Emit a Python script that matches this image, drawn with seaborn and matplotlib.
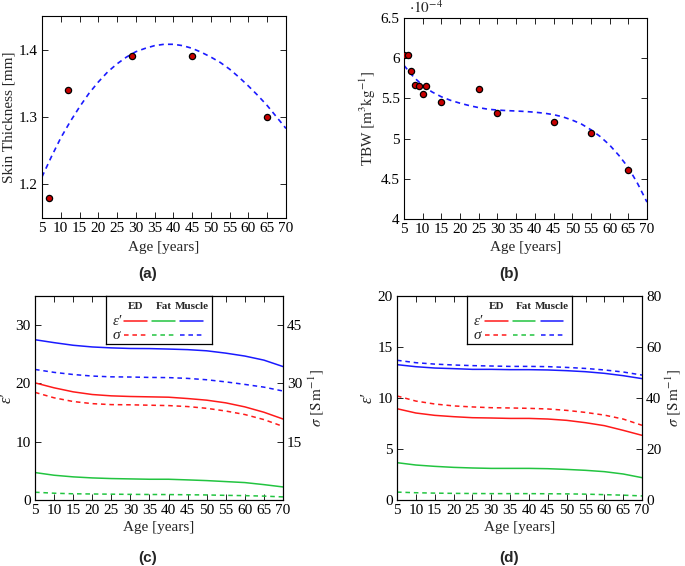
import numpy as np
import pandas as pd
import seaborn as sns
import matplotlib
matplotlib.use("Agg")
import matplotlib.pyplot as plt
from matplotlib.ticker import FuncFormatter

# ---- data ----
ages = [5, 10, 15, 20, 25, 30, 35, 40, 45, 50, 55, 60, 65, 70]
fit_ages = [5, 7.5, 10, 12.5, 15, 17.5, 20, 22.5, 25, 27.5, 30, 32.5, 35, 37.5, 40,
            42.5, 45, 47.5, 50, 52.5, 55, 57.5, 60, 62.5, 65, 67.5, 70]

skin_age = [7, 12, 29, 45, 65]
skin_mm = [1.18, 1.34, 1.39, 1.39, 1.30]
skin_fit = [1.211, 1.241, 1.269, 1.293, 1.315, 1.335, 1.352, 1.367, 1.379, 1.389,
            1.397, 1.402, 1.406, 1.408, 1.408, 1.406, 1.402, 1.396, 1.389, 1.381,
            1.371, 1.359, 1.346, 1.332, 1.317, 1.300, 1.283]

tbw_age = [5, 6, 7, 8, 9, 10, 11, 15, 25, 30, 45, 55, 65]
tbw = [6.04, 6.04, 5.84, 5.67, 5.66, 5.56, 5.65, 5.45, 5.62, 5.32, 5.21, 5.07, 4.61]
tbw_fit = [5.91, 5.77, 5.66, 5.58, 5.52, 5.475, 5.44, 5.41, 5.385, 5.365, 5.355,
           5.348, 5.343, 5.337, 5.328, 5.316, 5.298, 5.27, 5.23, 5.18, 5.11,
           5.025, 4.92, 4.79, 4.64, 4.44, 4.21]

# panel (c)
c_eps_ed = [20.1, 19.25, 18.56, 18.1, 17.87, 17.76, 17.7, 17.64, 17.41, 17.13, 16.67, 15.98, 15.06, 13.9]
c_eps_fat = [4.71, 4.25, 3.97, 3.79, 3.68, 3.62, 3.56, 3.56, 3.45, 3.33, 3.16, 2.99, 2.64, 2.24]
c_eps_mus = [27.5, 27.0, 26.55, 26.26, 26.1, 26.0, 25.98, 25.9, 25.8, 25.6, 25.2, 24.7, 24.0, 22.9]
c_sig_ed = [27.7, 26.3, 25.35, 24.8, 24.55, 24.5, 24.4, 24.3, 24.05, 23.6, 22.9, 22.0, 20.7, 18.95]
c_sig_fat = [2.0, 1.75, 1.6, 1.55, 1.5, 1.45, 1.42, 1.4, 1.35, 1.3, 1.2, 1.12, 1.0, 0.8]
c_sig_mus = [33.6, 32.85, 32.3, 31.9, 31.7, 31.65, 31.55, 31.5, 31.3, 30.95, 30.4, 29.75, 29.05, 28.05]

# panel (d)
d_eps_ed = [8.95, 8.53, 8.3, 8.17, 8.07, 8.04, 8.0, 8.0, 7.94, 7.81, 7.58, 7.29, 6.83, 6.34]
d_eps_fat = [3.66, 3.43, 3.3, 3.2, 3.14, 3.1, 3.1, 3.1, 3.07, 3.0, 2.91, 2.78, 2.55, 2.19]
d_eps_mus = [13.27, 13.07, 12.94, 12.88, 12.81, 12.81, 12.78, 12.78, 12.75, 12.68, 12.58, 12.42, 12.19, 11.9]
d_sig_ed = [40.8, 38.8, 37.65, 36.9, 36.5, 36.2, 36.1, 35.95, 35.7, 35.15, 34.35, 33.3, 31.75, 29.3]
d_sig_fat = [3.1, 2.85, 2.7, 2.6, 2.55, 2.5, 2.5, 2.5, 2.45, 2.4, 2.3, 2.1, 1.9, 1.6]
d_sig_mus = [54.8, 53.85, 53.3, 52.95, 52.7, 52.55, 52.4, 52.4, 52.3, 52.0, 51.6, 51.0, 50.2, 49.0]

tissues = ["ED", "Fat", "Muscle"]
colors = {"ED": "#ff1a1a", "Fat": "#22c440", "Muscle": "#1a1aff"}

sns.set_theme(style="ticks")
plt.rcParams["font.family"] = ["Liberation Serif", "DejaVu Serif"]
plt.rcParams["mathtext.fontset"] = "stix"

FS = 11
DASH = (0, (3, 2.5))
W, H = 685, 566

fig = plt.figure(figsize=(6.85, 5.66), dpi=100)
ax_a = fig.add_axes([0.0613, 0.6148, 0.3562, 0.3569])
ax_b = fig.add_axes([0.5898, 0.6131, 0.3547, 0.3551])
ax_c = fig.add_axes([0.0511, 0.1166, 0.3620, 0.3604])
ax_d = fig.add_axes([0.5796, 0.1166, 0.3577, 0.3604])


def style(ax, right=True):
    ax.tick_params(direction="in", top=True, right=right, length=4, width=0.6,
                   labelsize=FS, colors="black", pad=3)
    ax.set_xlim(5, 70)
    ax.set_xticks(range(5, 71, 5))
    for s in ax.spines.values():
        s.set_color("black")
        s.set_linewidth(0.8)


def place_labels(ax, xl_y, yl_x):
    ax.xaxis.set_label_coords(0.5, xl_y)
    ax.xaxis.label.set_va("center")
    ax.yaxis.set_label_coords(yl_x, 0.5)
    ax.yaxis.label.set_va("center")


# (a) skin thickness
sns.lineplot(x=fit_ages, y=skin_fit, ax=ax_a, color="#1a1aff", lw=1.2, linestyle=DASH)
sns.scatterplot(x=skin_age, y=skin_mm, ax=ax_a, color="#c80000", edgecolor="black",
                s=20, linewidth=0.9, zorder=5)
style(ax_a)
ax_a.set_ylim(1.15, 1.45)
ax_a.set_yticks([1.2, 1.3, 1.4])
ax_a.set_xlabel("Age [years]", fontsize=FS)
ax_a.set_ylabel("Skin Thickness [mm]", fontsize=FS)
place_labels(ax_a, -0.145, -0.135)

# (b) TBW
sns.lineplot(x=fit_ages, y=tbw_fit, ax=ax_b, color="#1a1aff", lw=1.2, linestyle=DASH)
sns.scatterplot(x=tbw_age, y=tbw, ax=ax_b, color="#c80000", edgecolor="black",
                s=20, linewidth=0.9, zorder=5)
style(ax_b)
ax_b.set_ylim(4, 6.5)
ax_b.set_yticks([4, 4.5, 5, 5.5, 6, 6.5])
ax_b.yaxis.set_major_formatter(FuncFormatter(lambda v, p: "%g" % v))
ax_b.set_xlabel("Age [years]", fontsize=FS)
ax_b.set_ylabel(r"TBW $[\mathrm{m^3kg^{-1}}]$", fontsize=FS)
place_labels(ax_b, -0.14, -0.148)
ax_b.text(0.02, 1.01, r"$\cdot 10^{-4}$", transform=ax_b.transAxes,
          ha="left", va="bottom", fontsize=FS)


def dielectric(ax, eps, sig, eps_top, sig_top, sig_ticks, eps_ticks, lx, rx):
    names = sum([[t] * len(ages) for t in tissues], [])
    df_e = pd.DataFrame({"age": ages * 3, "val": sum(eps, []), "tissue": names})
    df_s = pd.DataFrame({"age": ages * 3, "val": sum(sig, []), "tissue": names})
    sns.lineplot(data=df_e, x="age", y="val", hue="tissue", palette=colors,
                 ax=ax, lw=1.1, legend=False)
    style(ax, right=False)
    ax.set_ylim(0, eps_top)
    ax.set_yticks(eps_ticks)
    ax.set_xlabel("Age [years]", fontsize=FS)
    ax.set_ylabel("ε′", fontsize=FS + 1, fontstyle="italic")
    place_labels(ax, -0.137, lx)
    tw = ax.twinx()
    sns.lineplot(data=df_s, x="age", y="val", hue="tissue", palette=colors,
                 ax=tw, lw=1.1, legend=False, linestyle=DASH)
    tw.set_ylim(0, sig_top)
    tw.set_yticks(sig_ticks)
    tw.tick_params(direction="in", length=4, width=0.6, labelsize=FS, colors="black", pad=3)
    tw.set_ylabel(r"$\sigma$ $[\mathrm{S\,m^{-1}}]$", fontsize=FS, rotation=90)
    tw.yaxis.set_label_coords(rx, 0.5)
    tw.yaxis.label.set_va("center")
    for s in tw.spines.values():
        s.set_color("black")
        s.set_linewidth(0.8)

    # legend matrix
    lg = tw.inset_axes([0.286, 0.765, 0.428, 0.235])
    lg.set_xlim(0, 1)
    lg.set_ylim(0, 1)
    lg.set_xticks([])
    lg.set_yticks([])
    lg.set_facecolor("white")
    for s in lg.spines.values():
        s.set_color("black")
        s.set_linewidth(0.9)
    spans = [(0.17, 0.39), (0.435, 0.65), (0.70, 0.915)]
    for (x0, x1), t in zip(spans, tissues):
        lg.text((x0 + x1) / 2, 0.79, t, ha="center", va="center",
                fontsize=8, fontweight="bold")
        lg.plot([x0, x1], [0.47, 0.47], color=colors[t], lw=1.1)
        lg.plot([x0, x1], [0.18, 0.18], color=colors[t], lw=1.1, linestyle=DASH)
    lg.text(0.11, 0.47, "ε′", ha="center", va="center", fontsize=FS, fontstyle="italic")
    lg.text(0.10, 0.18, "σ", ha="center", va="center", fontsize=FS, fontstyle="italic")


dielectric(ax_c, [c_eps_ed, c_eps_fat, c_eps_mus], [c_sig_ed, c_sig_fat, c_sig_mus],
           35, 52.5, [15, 30, 45], [0, 10, 20, 30], -0.113, 1.135)
dielectric(ax_d, [d_eps_ed, d_eps_fat, d_eps_mus], [d_sig_ed, d_sig_fat, d_sig_mus],
           20, 80, [0, 20, 40, 60, 80], [0, 5, 10, 15, 20], -0.118, 1.125)

# panel letters
for lab, x, y in [("(a)", 148, 274), ("(b)", 509, 274), ("(c)", 148, 558), ("(d)", 509, 558)]:
    fig.text(x / W, 1 - y / H, lab, ha="center", va="center", fontsize=11,
             fontweight="bold", family=["Liberation Sans", "DejaVu Sans"])

fig.savefig("out.png", dpi=100)
